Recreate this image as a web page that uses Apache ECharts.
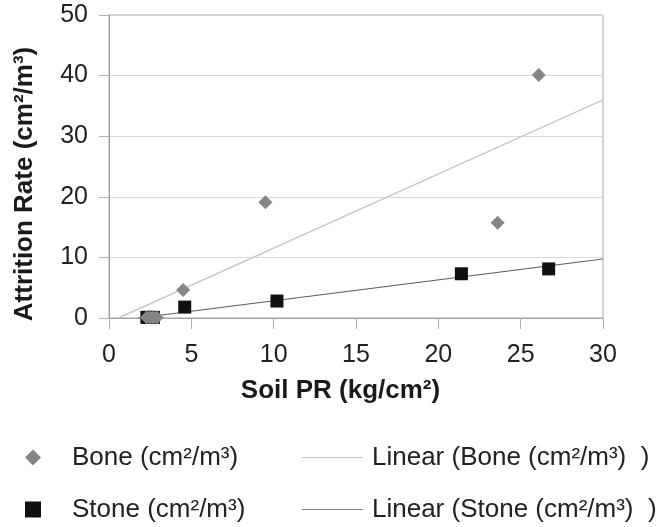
<!DOCTYPE html>
<html>
<head>
<meta charset="utf-8">
<script src="https://cdn.jsdelivr.net/npm/echarts@6/dist/echarts.min.js"></script>
<style>
html,body{margin:0;padding:0;background:#fff;}
#chart{width:658px;height:527px;}
</style>
</head>
<body>
<div id="chart"></div>
<script>
// ---- data ----
var boneName = 'Bone (cm\u00b2/m\u00b3)';
var stoneName = 'Stone (cm\u00b2/m\u00b3)';
var boneTrendName = 'Linear (Bone (cm\u00b2/m\u00b3)  )';
var stoneTrendName = 'Linear (Stone (cm\u00b2/m\u00b3)  )';
var xAxisTitle = 'Soil PR (kg/cm\u00b2)';
var yAxisTitle = 'Attrition Rate (cm\u00b2/m\u00b3)';

var boneX = [2.3, 2.5, 2.7, 2.9, 4.5, 9.5, 23.6, 26.1];
var boneY = [0.1, 0.1, 0.1, 0.1, 4.6, 19.1, 15.7, 40.1];
var stoneX = [2.3, 2.5, 2.7, 4.6, 10.2, 21.4, 26.7];
var stoneY = [0.1, 0.1, 0.1, 1.8, 2.8, 7.3, 8.1];
// trendline [slope, intercept] as drawn in the reference
var boneTrendCoef = [1.223, -0.7];
var stoneTrendCoef = [0.345, -0.61];
var xRange = [0, 30];
var yRange = [0, 50];

function pairs(xs, ys) { return xs.map(function (x, i) { return [x, ys[i]]; }); }
function trend(coef) {
  var x0 = Math.max(xRange[0], -coef[1] / coef[0]);
  var x1 = xRange[1];
  return [[x0, coef[0] * x0 + coef[1]], [x1, coef[0] * x1 + coef[1]]];
}

var FONT = "'Liberation Sans', Arial, sans-serif";
var LINE_ICON = 'path://M0,0 L100,0 L100,2 L0,2 Z';
var chart = echarts.init(document.getElementById('chart'), null, {renderer: 'canvas'});
chart.setOption({
  backgroundColor: '#ffffff',
  animation: false,
  textStyle: {fontFamily: FONT},
  grid: {left: 109, right: 55, top: 15, bottom: 209, show: true, borderColor: '#a8a8a8', borderWidth: 1, backgroundColor: 'transparent'},
  xAxis: {
    type: 'value', min: xRange[0], max: xRange[1], interval: 5,
    name: xAxisTitle, nameLocation: 'middle', nameGap: 60,
    nameTextStyle: {fontFamily: FONT, fontSize: 26, fontWeight: 'bold', color: '#1a1a1a', padding: [0, 31, 0, 0]},
    axisLine: {show: true, lineStyle: {color: '#a0a0a0', width: 1}},
    axisTick: {show: true, inside: false, length: 11, lineStyle: {color: '#b0b0b0'}},
    axisLabel: {margin: 25, fontSize: 25, color: '#222', fontFamily: FONT},
    splitLine: {show: false}
  },
  yAxis: {
    type: 'value', min: yRange[0], max: yRange[1], interval: 10,
    name: yAxisTitle, nameLocation: 'middle', nameGap: 71, nameRotate: 90,
    nameTextStyle: {fontFamily: FONT, fontSize: 26, fontWeight: 'bold', color: '#1a1a1a', padding: [0, 35, 0, 0]},
    axisLine: {show: true, lineStyle: {color: '#a0a0a0', width: 1}},
    axisTick: {show: true, inside: false, length: 10, lineStyle: {color: '#b0b0b0'}},
    axisLabel: {margin: 21, fontSize: 25, color: '#222', fontFamily: FONT},
    splitLine: {show: true, lineStyle: {color: '#d8d8d8', width: 1}}
  },
  legend: [
    {
      orient: 'vertical', left: 20, top: 438, height: 120, itemGap: 23,
      itemWidth: 16, itemHeight: 16,
      data: [boneName, stoneName],
      textStyle: {fontSize: 26, lineHeight: 29, color: '#222', fontFamily: FONT, padding: [0, 0, 0, 26]}
    },
    {
      orient: 'vertical', left: 297, top: 438, height: 120, itemGap: 23,
      itemWidth: 61, itemHeight: 16,
      data: [
        {name: boneTrendName, icon: LINE_ICON},
        {name: stoneTrendName, icon: LINE_ICON}
      ],
      textStyle: {fontSize: 26, lineHeight: 29, color: '#222', fontFamily: FONT, padding: [0, 0, 0, 4]}
    }
  ],
  series: [
    {
      name: boneTrendName, type: 'line', data: trend(boneTrendCoef),
      symbol: 'none', showSymbol: false, clip: true, z: 1,
      lineStyle: {color: '#c9c9c9', width: 1.5}, itemStyle: {color: '#c9c9c9'}
    },
    {
      name: stoneTrendName, type: 'line', data: trend(stoneTrendCoef),
      symbol: 'none', showSymbol: false, clip: true, z: 1,
      lineStyle: {color: '#5a5a5a', width: 1}, itemStyle: {color: '#8a8a8a'}
    },
    {
      name: stoneName, type: 'scatter', data: pairs(stoneX, stoneY),
      symbol: 'rect', symbolSize: 13, z: 2,
      itemStyle: {color: '#111111', opacity: 1}
    },
    {
      name: boneName, type: 'scatter', data: pairs(boneX, boneY),
      symbol: 'diamond', symbolSize: 14, z: 3,
      itemStyle: {color: '#858585', opacity: 1}
    }
  ]
});
</script>
</body>
</html>
